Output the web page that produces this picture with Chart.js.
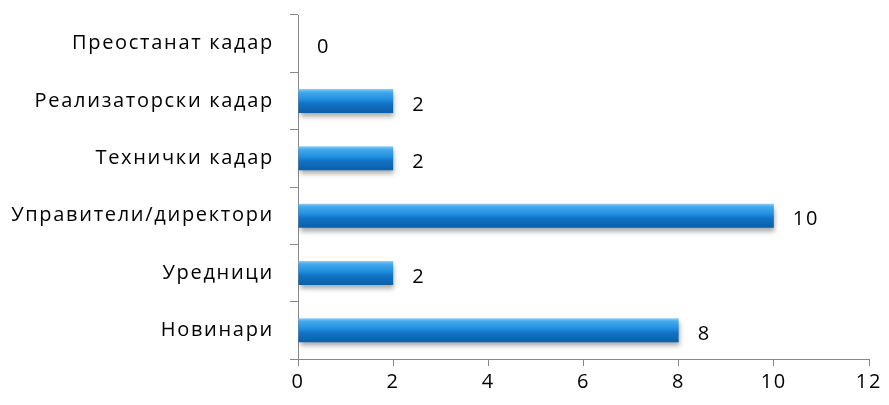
<!DOCTYPE html>
<html><head><meta charset="utf-8">
<script src="https://cdn.jsdelivr.net/npm/chart.js@4"></script>
<style>html,body{margin:0;padding:0;background:#fff}</style>
</head><body>
<canvas id="c" width="889" height="405"></canvas>
<script>
const categories = ["Преостанат кадар","Реализаторски кадар","Технички кадар","Управители/директори","Уредници","Новинари"];
const values = [0,2,2,10,2,8];
const xTicks = [0,2,4,6,8,10,12];

const FONT = "'Open Sans', sans-serif";
const SPACING = '1.7px';

function barGradient(ctx){
  const chart = ctx.chart;
  const {chartArea} = chart;
  if(!chartArea) return '#1e88dc';
  const ys = chart.scales.y;
  const cy = ys.getPixelForValue(ctx.dataIndex);
  const h = 24;
  const g = chart.ctx.createLinearGradient(0, cy-h/2, 0, cy+h/2);
  g.addColorStop(0, '#8fd0f8');
  g.addColorStop(0.12, '#45aaee');
  g.addColorStop(0.45, '#1f8ddf');
  g.addColorStop(0.6, '#1273c6');
  g.addColorStop(1, '#0b5fa6');
  return g;
}

const spacingPlugin = {
  id:'spacing',
  beforeUpdate(chart){ chart.ctx.letterSpacing = SPACING; },
  beforeDraw(chart){ chart.ctx.letterSpacing = SPACING; }
};

const shadowPlugin = {
  id:'shadow',
  beforeDatasetDraw(chart){
    const c = chart.ctx; c.save();
    c.shadowColor='rgba(0,0,0,0.35)'; c.shadowBlur=5; c.shadowOffsetX=1; c.shadowOffsetY=4;
  },
  afterDatasetDraw(chart){ chart.ctx.restore(); }
};

const labelPlugin = {
  id:'labels',
  afterDatasetsDraw(chart){
    const c = chart.ctx;
    const meta = chart.getDatasetMeta(0);
    c.save();
    c.font = "20px " + FONT;
    c.fillStyle = '#000';
    c.textBaseline = 'middle';
    c.textAlign = 'left';
    meta.data.forEach((el,i)=>{
      c.fillText(String(values[i]), el.x + 19, el.y + 4);
    });
    c.restore();
  }
};

new Chart(document.getElementById('c'), {
  type:'bar',
  data:{labels:categories, datasets:[{data:values, backgroundColor:barGradient, borderWidth:0, barPercentage:0.42, categoryPercentage:1}]},
  options:{
    indexAxis:'y', responsive:false, animation:false,
    layout:{padding:{top:15,right:20,left:0,bottom:0}},
    plugins:{legend:{display:false},tooltip:{enabled:false}},
    scales:{
      x:{min:0,max:12,
        afterBuildTicks(s){ s.ticks = xTicks.map(v=>({value:v})); },
        afterFit(s){ s.height = 46; s.paddingLeft = 0; s.paddingRight = 0; },
        grid:{drawOnChartArea:false, tickLength:7, color:'#888'},
        border:{color:'#888', width:1},
        ticks:{font:{family:FONT,size:20}, color:'#000', padding:4}
      },
      y:{
        afterFit(s){ s.width = 298; s.paddingTop = 0; s.paddingBottom = 0; },
        grid:{drawOnChartArea:false, tickLength:8, color:'#888', offset:true},
        border:{color:'#888', width:1},
        ticks:{font:{family:FONT,size:20}, color:'#000', padding:16}
      }
    }
  },
  plugins:[spacingPlugin,shadowPlugin,labelPlugin]
});
</script>
</body></html>
